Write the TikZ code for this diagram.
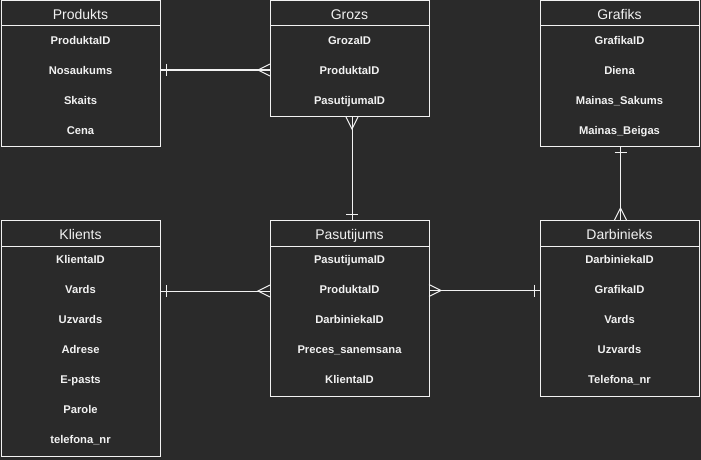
\documentclass[tikz,border=0pt]{standalone}
\usepackage{fontspec}
\setmainfont{Liberation Sans}
\usetikzlibrary{calc}
\definecolor{bg}{HTML}{2A2A2A}
\definecolor{fg}{HTML}{F2F2F2}
\begin{document}
\begin{tikzpicture}[x=1pt,y=-1pt,line width=1pt,
  ebox/.style={draw=fg,fill=bg,rectangle,inner sep=0pt,outer sep=0pt,anchor=north west,minimum width=159pt},
  hdr/.style={draw=fg,rectangle,inner sep=0pt,outer sep=0pt,anchor=north west,minimum width=159pt,minimum height=25pt,text=fg,text height=12pt,text depth=0pt,font=\fontsize{14}{16}\selectfont},
  row/.style={text=fg,inner sep=0pt,text height=9.5pt,text depth=0.5pt,font=\bfseries\fontsize{11.2}{13}\selectfont},
  conn/.style={draw=fg,line width=1pt}]
\fill[bg] (0,0) rectangle (701,460);
\useasboundingbox (0,0) rectangle (701,460);

% Produkts
\node[ebox,minimum height=145pt] (produkts) at (1,1) {};
\node[hdr] (produktsH) at (1,1) {Produkts};
\node[row] (pr1) at (80.5,40) {ProduktaID};
\node[row] (pr2) at (80.5,70) {Nosaukums};
\node[row] (pr3) at (80.5,100) {Skaits};
\node[row] (pr4) at (80.5,130) {Cena};

% Grozs
\node[ebox,minimum height=115pt] (grozs) at (270,1) {};
\node[hdr] (grozsH) at (270,1) {Grozs};
\node[row] (gr1) at (349.5,40) {GrozaID};
\node[row] (gr2) at (349.5,70) {ProduktaID};
\node[row] (gr3) at (349.5,100) {PasutijumaID};

% Grafiks
\node[ebox,minimum height=145pt] (grafiks) at (540,1) {};
\node[hdr] (grafiksH) at (540,1) {Grafiks};
\node[row] (gf1) at (619.5,40) {GrafikaID};
\node[row] (gf2) at (619.5,70) {Diena};
\node[row] (gf3) at (619.5,100) {Mainas\_Sakums};
\node[row] (gf4) at (619.5,130) {Mainas\_Beigas};

% Klients
\node[ebox,minimum height=236pt] (klients) at (1,220) {};
\node[hdr,minimum height=26pt] (klientsH) at (1,220) {Klients};
\node[row] (kl1) at (80.5,259) {KlientaID};
\node[row] (kl2) at (80.5,289) {Vards};
\node[row] (kl3) at (80.5,319) {Uzvards};
\node[row] (kl4) at (80.5,349) {Adrese};
\node[row] (kl5) at (80.5,379) {E-pasts};
\node[row] (kl6) at (80.5,409) {Parole};
\node[row] (kl7) at (80.5,439) {telefona\_nr};

% Pasutijums
\node[ebox,minimum height=176pt] (pasutijums) at (270,220) {};
\node[hdr,minimum height=26pt] (pasutijumsH) at (270,220) {Pasutijums};
\node[row] (pa1) at (349.5,259) {PasutijumaID};
\node[row] (pa2) at (349.5,289) {ProduktaID};
\node[row] (pa3) at (349.5,319) {DarbiniekaID};
\node[row] (pa4) at (349.5,349) {Preces\_sanemsana};
\node[row] (pa5) at (349.5,379) {KlientaID};

% Darbinieks
\node[ebox,minimum height=176pt] (darbinieks) at (540,220) {};
\node[hdr,minimum height=26pt] (darbinieksH) at (540,220) {Darbinieks};
\node[row] (db1) at (619.5,259) {DarbiniekaID};
\node[row] (db2) at (619.5,289) {GrafikaID};
\node[row] (db3) at (619.5,319) {Vards};
\node[row] (db4) at (619.5,349) {Uzvards};
\node[row] (db5) at (619.5,379) {Telefona\_nr};

% Connector 1: Produkts -- Grozs
\coordinate (c1a) at (produkts.east |- pr2);
\coordinate (c1b) at (grozs.west |- pr2);
\draw[conn] (c1a) -- (c1b);
\draw[conn] ($(c1a)+(6,-6)$) -- ($(c1a)+(6,6)$);
\draw[conn] ($(c1b)+(0,-6)$) -- ($(c1b)+(-12,0)$) -- ($(c1b)+(0,6)$);

% Connector 2: Grozs -- Pasutijums
\coordinate (c2a) at ($(grozs.south)+(2.5,0)$);
\coordinate (c2b) at (c2a |- pasutijums.north);
\draw[conn] (c2a) -- (c2b);
\draw[conn] ($(c2a)+(-6,1)$) -- ($(c2a)+(0,13)$) -- ($(c2a)+(6,1)$);
\draw[conn] ($(c2b)+(-6,-6)$) -- ($(c2b)+(6,-6)$);

% Connector 3: Klients -- Pasutijums
\coordinate (c3a) at ($(klients.east |- kl2)+(0,2)$);
\coordinate (c3b) at (pasutijums.west |- c3a);
\draw[conn] (c3a) -- (c3b);
\draw[conn] ($(c3a)+(6,-6)$) -- ($(c3a)+(6,6)$);
\draw[conn] ($(c3b)+(0,-6)$) -- ($(c3b)+(-12,0)$) -- ($(c3b)+(0,6)$);

% Connector 4: Pasutijums -- Darbinieks
\coordinate (c4a) at ($(pasutijums.east |- pa2)+(0,1.5)$);
\coordinate (c4b) at (darbinieks.west |- c4a);
\draw[conn] (c4a) -- (c4b);
\draw[conn] ($(c4a)+(0,-6)$) -- ($(c4a)+(12,0)$) -- ($(c4a)+(0,6)$);
\draw[conn] ($(c4b)+(-6,-6)$) -- ($(c4b)+(-6,6)$);

% Connector 5: Grafiks -- Darbinieks
\coordinate (c5a) at ($(grafiks.south)+(1,0)$);
\coordinate (c5b) at (c5a |- darbinieks.north);
\draw[conn] (c5a) -- (c5b);
\draw[conn] ($(c5a)+(-6,6)$) -- ($(c5a)+(6,6)$);
\draw[conn] ($(c5b)+(-6,0)$) -- ($(c5b)+(0,-12)$) -- ($(c5b)+(6,0)$);
\end{tikzpicture}
\end{document}
